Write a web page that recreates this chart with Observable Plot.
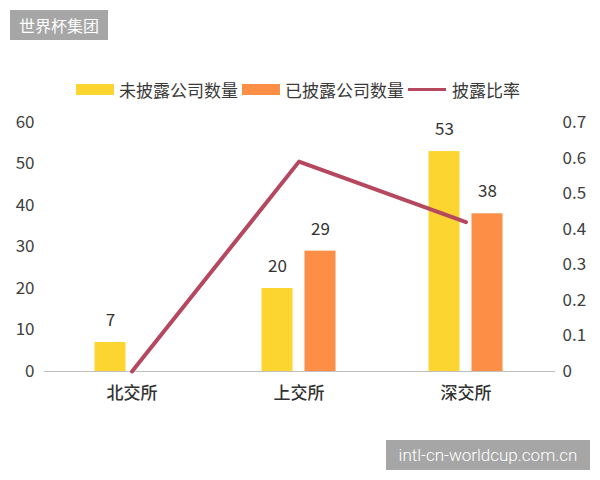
<!DOCTYPE html>
<html>
<head>
<meta charset="utf-8">
<script src="https://cdn.jsdelivr.net/npm/d3@7"></script>
<script src="https://cdn.jsdelivr.net/npm/@observablehq/plot@0.6"></script>
<style>
  html, body { margin: 0; padding: 0; background: #fff; }
  #wrap { position: relative; width: 600px; height: 480px; font-family: "Noto Sans CJK SC", "Noto Sans", sans-serif; }
  #legend { position: absolute; top: 78px; left: 0; width: 600px; height: 22px; display: flex; justify-content: center; align-items: center; font-size: 17px; color: #3a3a3a; }
  .sw { display: inline-block; width: 38px; height: 11px; margin-right: 5px; }
  .ln { display: inline-block; width: 38px; height: 3px; margin-right: 6px; }
  .lab { margin-right: 4px; }
  #chart { position: absolute; top: 100px; left: 0; }
  .wm { position: absolute; background: #a6a6a6; color: #fff; font-size: 16px; display: flex; align-items: center; justify-content: center; }
</style>
</head>
<body>
<div id="wrap">
  <div id="legend"></div>
  <div id="chart"></div>
  <div class="wm" style="left:10px;top:10px;width:98px;height:30px;">世界杯集团</div>
  <div class="wm" style="left:386px;top:440px;width:204px;height:30px;font-family:'Roboto',sans-serif;font-weight:300;font-size:17px;">intl-cn-worldcup.com.cn</div>
</div>
<script>
const categories = ["北交所", "上交所", "深交所"];
const undisclosed = [7, 20, 53];
const disclosed = [0, 29, 38];
const ratio = [0, 0.59, 0.42];
const leftTicks = [0, 10, 20, 30, 40, 50, 60];
const rightTicks = [0, 0.1, 0.2, 0.3, 0.4, 0.5, 0.6, 0.7];
const seriesNames = ["未披露公司数量", "已披露公司数量", "披露比率"];
const colors = ["#fcd531", "#fd8e46", "#b5485e"];

const leftMax = 60, rightMax = 0.7;
const toLeft = v => v * leftMax / rightMax;

const barsU = categories.map((c, i) => ({cat: c, v: undisclosed[i]}));
const barsD = categories.map((c, i) => ({cat: c, v: disclosed[i]})).filter(d => d.v > 0);
const lineData = categories.map((c, i) => ({cat: c, r: toLeft(ratio[i])}));

// legend
const legend = document.getElementById("legend");
seriesNames.forEach((n, i) => {
  const s = document.createElement("span");
  s.className = i === 2 ? "ln" : "sw";
  s.style.background = colors[i];
  legend.appendChild(s);
  const t = document.createElement("span");
  t.className = "lab";
  t.textContent = n;
  legend.appendChild(t);
});

const off = 21.5;
const chart = Plot.plot({
  width: 600,
  height: 320,
  marginLeft: 47,
  marginRight: 50,
  marginTop: 22,
  marginBottom: 49,
  style: {fontFamily: "'Noto Sans CJK SC', 'Noto Sans', sans-serif", background: "transparent"},
  x: {domain: categories, paddingInner: 0.815, paddingOuter: 0.4075},
  y: {domain: [0, leftMax]},
  marks: [
    Plot.ruleY([0], {stroke: "#bfbfbf", strokeWidth: 1.2, insetLeft: -3, insetRight: -5}),
    Plot.barY(barsU, {x: "cat", y: "v", fill: colors[0], dx: -off}),
    Plot.barY(barsD, {x: "cat", y: "v", fill: colors[1], dx: off}),
    Plot.line(lineData, {x: "cat", y: "r", stroke: colors[2], strokeWidth: 4}),
    Plot.text(barsU, {x: "cat", y: "v", text: d => String(d.v), dx: -off, dy: -22, fontSize: 17, fill: "#333"}),
    Plot.text(barsD, {x: "cat", y: "v", text: d => String(d.v), dx: off, dy: -22, fontSize: 17, fill: "#333"}),
    Plot.axisY(leftTicks, {anchor: "left", tickSize: 0, tickPadding: 13, fontSize: 17, fill: "#404040", label: null}),
    Plot.axisY(rightTicks.map(toLeft), {anchor: "right", tickSize: 0, tickPadding: 12, fontSize: 17, fill: "#404040", label: null,
      tickFormat: v => String(Math.round(v * rightMax / leftMax * 10) / 10)}),
    Plot.axisX({anchor: "bottom", tickSize: 0, tickPadding: 15, fontSize: 17, fill: "#333", fontWeight: 500, label: null})
  ]
});
document.getElementById("chart").appendChild(chart);
</script>
</body>
</html>
